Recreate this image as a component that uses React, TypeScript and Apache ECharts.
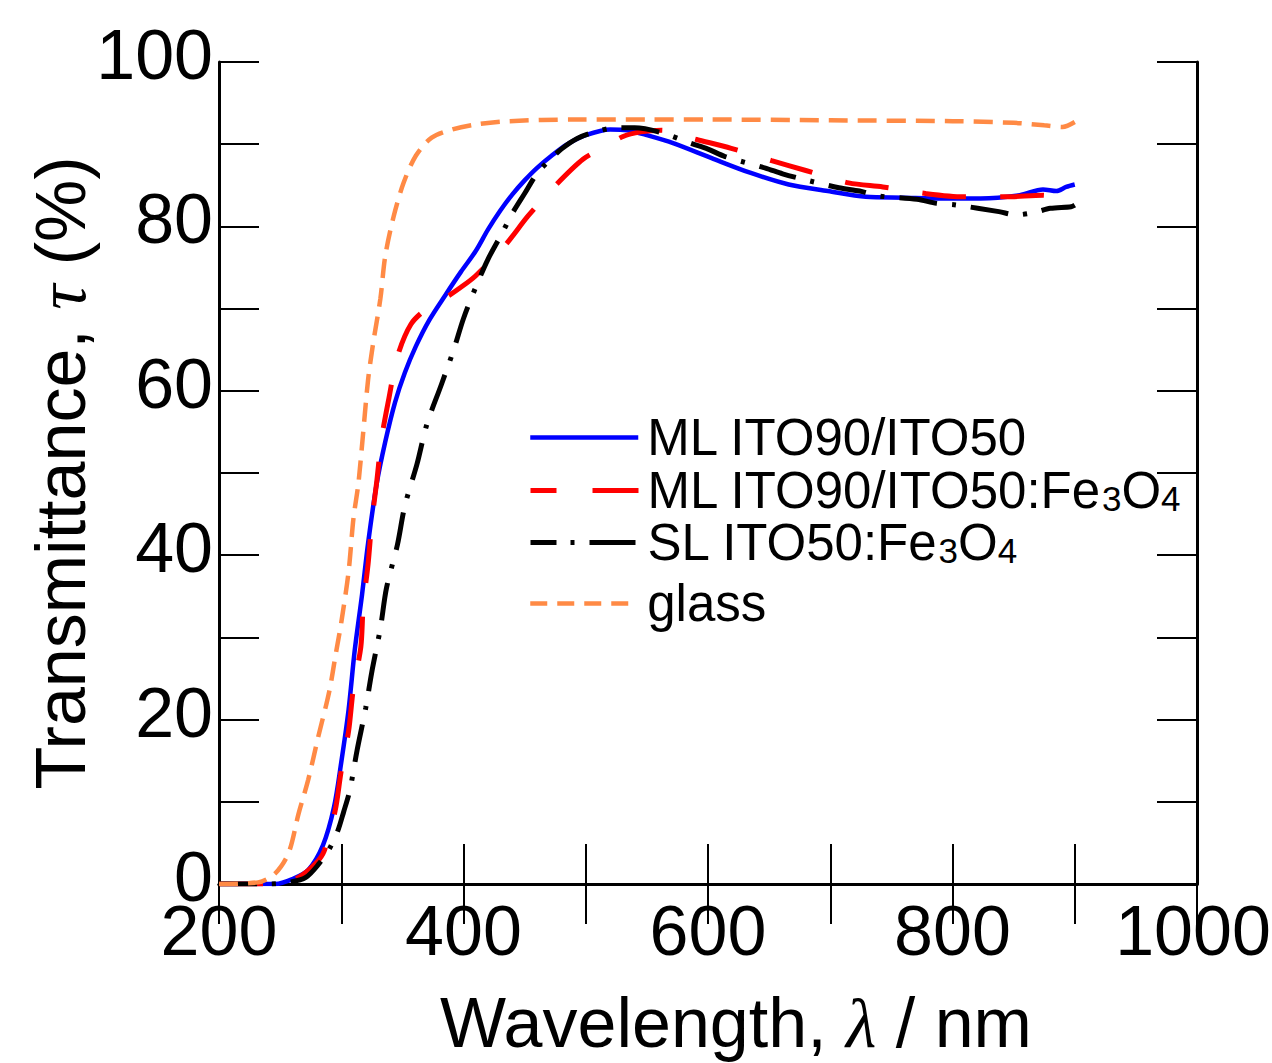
import React, { useEffect, useRef } from "react";
import * as echarts from "echarts";

// ---- Data ----
const seriesNames = ["ML ITO90/ITO50", "ML ITO90/ITO50:Fe3O4", "SL ITO50:Fe3O4", "glass"];

const wlBlue = [200, 230, 246, 260, 273, 285, 294, 300, 306, 311, 317, 322, 329, 336, 344, 352, 361, 372, 385, 398, 410, 420, 430, 440, 450, 460, 472, 485, 500, 520, 534, 550, 572, 603, 635, 666, 698, 729, 760, 792, 823, 855, 874, 885, 893, 900];
const tBlue = [0, 0, 0, 0.6, 1.7, 4.7, 9.3, 14.8, 21.2, 28.4, 35.2, 41.5, 48.7, 53.8, 58.6, 62.2, 65.4, 68.6, 71.6, 74.5, 77.0, 79.6, 81.9, 83.9, 85.6, 87.1, 88.6, 90.0, 91.1, 91.8, 91.7, 91.1, 90.1, 88.3, 86.5, 85.1, 84.3, 83.6, 83.5, 83.4, 83.4, 83.8, 84.5, 84.3, 84.8, 85.1];

const wlRed = [200, 225, 250, 265, 279, 286, 295, 300, 306, 310, 316, 318, 322, 325, 329, 333, 339, 346, 357, 370, 384, 397, 410, 434, 453, 476, 498, 515, 530, 545, 562, 578, 590, 619, 652, 680, 715, 743, 778, 809, 844, 874, 885, 893, 900];
const tRed = [0, 0, 0, 0.8, 2.5, 4, 8.9, 13.8, 18.6, 23.9, 28.8, 33.9, 39, 44.1, 48.9, 54.2, 59.1, 64.2, 68.1, 70, 71.2, 72.5, 74, 77.7, 81.3, 85.1, 88.2, 89.6, 90.9, 91.5, 91.7, 91.1, 90.6, 89.5, 88.0, 86.8, 85.3, 84.8, 84.0, 83.6, 83.6, 83.8, 83.6, 84.0, 84.7];

const wlBlack = [200, 240, 257, 271, 282, 290, 297, 302, 307, 313, 320, 325, 332, 337, 346, 352, 362, 370, 382, 392, 400, 410, 420, 432, 440, 450, 460, 470, 480, 493, 510, 525, 540, 562, 586, 600, 614, 647, 661, 676, 707, 724, 740, 771, 787, 803, 838, 852, 867, 880, 897, 900];
const tBlack = [0, 0, 0.2, 0.8, 2.5, 4.2, 6.4, 8.8, 11.4, 16.3, 21.4, 25.8, 31.1, 36, 41.3, 46, 51.1, 55.9, 60.8, 65.0, 68.8, 72.6, 76.0, 79.3, 81.6, 84.0, 86.4, 88.0, 89.4, 90.7, 91.6, 92.0, 92.0, 91.4, 90.1, 89.4, 88.5, 87.1, 86.4, 85.8, 84.7, 84.3, 83.7, 83.3, 82.8, 82.6, 81.8, 81.4, 81.7, 82.2, 82.4, 82.6];

const wlGlass = [200, 232, 246, 257, 265, 273, 281, 290, 296, 300, 306, 310, 314, 318, 322, 326, 332, 336, 343, 351, 361, 374, 391, 410, 437, 490, 550, 600, 700, 800, 850, 875, 890, 900];
const tGlass = [0, 0.2, 1.3, 3.8, 8.5, 12.7, 17.8, 23.3, 28.4, 31.8, 38, 44.5, 48.7, 55, 61.4, 65.7, 71.2, 76.4, 81.3, 85.3, 88.6, 90.8, 91.8, 92.4, 92.8, 93, 93, 93, 92.9, 92.8, 92.6, 92.3, 92.1, 92.7];

const xTickLabels = ["200", "400", "600", "800", "1000"];
const yTickLabels = ["0", "20", "40", "60", "80", "100"];

const legendRich: Record<string, string> = {
  "ML ITO90/ITO50": "ML ITO90/ITO50",
  "ML ITO90/ITO50:Fe3O4": "ML ITO90/ITO50:Fe{s|3}O{s|4}",
  "SL ITO50:Fe3O4": "SL ITO50:Fe{s|3}O{s|4}",
  glass: "glass",
};

const pairs = (xs: number[], ys: number[]) => xs.map((x, i) => [x, ys[i]]);

const FONT = "'Liberation Sans', Arial, sans-serif";
const SERIF = "'Liberation Serif', 'Times New Roman', serif";

export default function App() {
  const ref = useRef<HTMLDivElement>(null);
  useEffect(() => {
    document.body.style.margin = "0";
    const chart = echarts.init(ref.current!, undefined, { renderer: "svg" });

    const colors = ["#0000ff", "#ff0000", "#000000", "#ff8a45"];
    const widths = [4.5, 5, 5, 4.5];
    const dashes: any[] = ["solid", [44, 34], [38, 15, 4, 15], [19, 10]];
    const legendDashes: any[] = ["solid", [26, 36, 46, 100], [26, 14, 4, 15, 46, 100], [17, 10]];
    const rowCenters = [437, 490, 542, 603];
    const datasets = [
      pairs(wlBlue, tBlue),
      pairs(wlRed, tRed),
      pairs(wlBlack, tBlack),
      pairs(wlGlass, tGlass),
    ];

    const tickStyle = { show: true, inside: true, length: 40, lineStyle: { color: "#000", width: 2 } };
    const lineStyle = { show: true, lineStyle: { color: "#000", width: 3 } };
    const lastX = xTickLabels[xTickLabels.length - 1];

    chart.setOption({
      animation: false,
      backgroundColor: "#fff",
      grid: { left: 219, right: 75, top: 62, bottom: 179, containLabel: false, outerBoundsMode: "none" },
      xAxis: [
        {
          type: "value",
          min: 200,
          max: 1000,
          interval: 100,
          position: "bottom",
          axisLine: lineStyle,
          axisTick: tickStyle,
          splitLine: { show: false },
          axisLabel: {
            color: "#000",
            fontSize: 70,
            lineHeight: 50,
            fontFamily: FONT,
            margin: 22,
            formatter: (v: number) => {
              const s = String(v);
              if (!xTickLabels.includes(s)) return "";
              return s === lastX ? "{e|" + s + "}" : s;
            },
            rich: { e: { fontSize: 70, lineHeight: 50, fontFamily: FONT, color: "#000", padding: [0, 8, 0, 0] } },
          },
          name: "Wavelength, {i|λ} / nm",
          nameLocation: "middle",
          nameGap: 109,
          nameMoveOverlap: false,
          nameTextStyle: {
            color: "#000",
            fontSize: 70,
            lineHeight: 60,
            fontFamily: FONT,
            padding: [0, 0, 0, 56],
            rich: { i: { fontStyle: "italic", fontFamily: SERIF, fontSize: 70, lineHeight: 60, color: "#000" } },
          },
        },
        {
          type: "value",
          min: 200,
          max: 1000,
          interval: 100,
          position: "top",
          axisLine: lineStyle,
          axisTick: tickStyle,
          splitLine: { show: false },
          axisLabel: { show: false },
        },
      ],
      yAxis: [
        {
          type: "value",
          min: 0,
          max: 100,
          interval: 10,
          position: "left",
          axisLine: lineStyle,
          axisTick: tickStyle,
          splitLine: { show: false },
          axisLabel: {
            color: "#000",
            fontSize: 70,
            lineHeight: 14,
            verticalAlign: "bottom",
            fontFamily: FONT,
            margin: 6,
            formatter: (v: number) => (yTickLabels.includes(String(v)) ? String(v) : ""),
          },
          name: "Transmittance, {i|τ} (%)",
          nameLocation: "middle",
          nameGap: 123,
          nameMoveOverlap: false,
          nameTextStyle: {
            color: "#000",
            fontSize: 70,
            lineHeight: 70,
            fontFamily: FONT,
            rich: { i: { fontStyle: "italic", fontFamily: SERIF, fontSize: 70, lineHeight: 70, color: "#000" } },
          },
        },
        {
          type: "value",
          min: 0,
          max: 100,
          interval: 10,
          position: "right",
          axisLine: lineStyle,
          axisTick: tickStyle,
          splitLine: { show: false },
          axisLabel: { show: false },
        },
      ],
      legend: seriesNames.map((name, i) => ({
        data: [name],
        left: 528,
        top: rowCenters[i] - 25,
        orient: "vertical",
        padding: 0,
        itemWidth: 108,
        itemHeight: 10,
        selectedMode: false,
        itemStyle: { opacity: 0, borderWidth: 0 },
        lineStyle: { color: colors[i], width: widths[i], type: legendDashes[i], cap: "butt" },
        formatter: (n: string) => legendRich[n] ?? n,
        textStyle: {
          color: "#000",
          fontSize: 51,
          lineHeight: 50,
          fontFamily: FONT,
          padding: [0, 0, 0, 4],
          rich: { s: { fontSize: 35, lineHeight: 8, verticalAlign: "bottom", fontFamily: FONT, color: "#000" } },
        },
      })),
      series: seriesNames.map((name, i) => ({
        name,
        type: "line",
        xAxisIndex: 0,
        yAxisIndex: 0,
        data: datasets[i],
        symbol: "none",
        showSymbol: false,
        smooth: 0.3,
        color: colors[i],
        lineStyle: { color: colors[i], width: widths[i], type: dashes[i], cap: "butt" },
        z: 2 + i,
      })),
    });
    return () => chart.dispose();
  }, []);
  return <div ref={ref} style={{ width: 1272, height: 1063 }} />;
}
